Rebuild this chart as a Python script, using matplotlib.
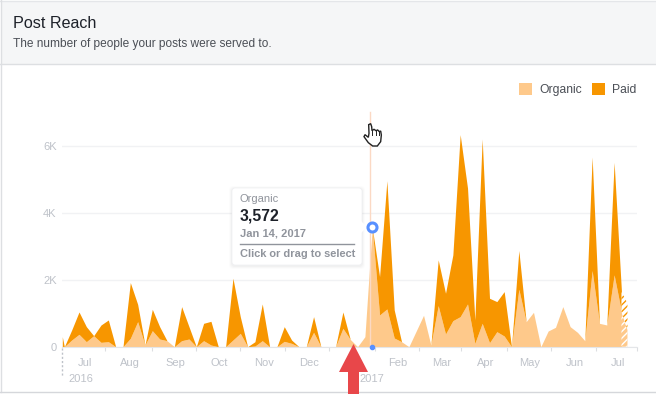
import matplotlib
matplotlib.use("Agg")
import matplotlib.pyplot as plt
from matplotlib.patches import FancyBboxPatch, Polygon, Rectangle

# values in thousands, one point per 5 days after the short first step
organic = [0, 0, .2, .37, .15, .33, .13, .15, 0, 0, .25, .75, .05, .48, .23, .18, 0, .18, .23, 0,
           .18, .05, 0, 0, .2, .4, 0, .02, .18, 0, 0, .16, .1, 0, 0, .43, 0, 0, 0, .55,
           .22, 0, .3, 3.572, .95, 1.13, .26, .15, 0, .47, .94, .05, 1.23, .38, .78, .9, 1.28, .1, .7, .12,
           .45, .32, 0, 1.72, .75, 1.03, 0, .47, .58, 1.2, .6, .43, .18, 2.28, .7, .65, 2.15, 1.05, .5]
paid = [.3, 0, .3, .67, .45, 0, .52, .65, 0, 0, 1.67, .52, 0, .64, .37, 0, 0, 1.02, .37, 0,
        .52, .71, 0, 0, 1.85, .5, 0, .13, 1.1, 0, 0, .44, .1, 0, 0, .47, 0, 0, 0, .49,
        0, 0, 0, 0, 1.15, 3.84, .84, 0, 0, 0, 0, 0, 1.37, 1.22, 1.97, 5.45, 3.47, .7, 5.52, 1.33,
        .9, 1.33, 0, 1.16, 0, 0, 0, 0, 0, 0, 0, 0, 0, 3.4, 0, 0, 3.37, .6, .8]
days = [0] + [1.4 + 5 * k for k in range(77)] + [385.5]
month_starts = [0, 29, 61, 91, 121, 152, 182, 213, 243, 272, 303, 333, 364, 392]
month_labels = ["Jul", "Aug", "Sep", "Oct", "Nov", "Dec", "", "Feb", "Mar", "Apr", "May", "Jun", "Jul"]
y_ticks = [0, 2, 4, 6]
y_labels = ["0", "2K", "4K", "6K"]

W, H = 656, 394
ORGANIC = "#fec98b"
PAID = "#f79600"
GRAY = "#bec2c9"
plt.rcParams["font.family"] = ["Liberation Sans", "DejaVu Sans"]

fig = plt.figure(figsize=(W / 100, H / 100), dpi=100)

# chart area placed by pixels
left, right, top, bottom = 62.3, 637.0, 110.0, 346.7
ax = fig.add_axes([left / W, 1 - bottom / H, (right - left) / W, (bottom - top) / H])
ax.set_xlim(0, (right - left) / 1.4667)
ax.set_ylim(0, (bottom - top) / 33.4)
for s in ax.spines.values():
    s.set_visible(False)
ax.spines["bottom"].set_visible(True)
ax.spines["bottom"].set_color("#e4e6e9")
ax.set_yticks(y_ticks, y_labels)
ax.grid(axis="y", color="#f1f2f4", lw=1)
ax.set_axisbelow(True)
ax.tick_params(axis="y", length=0, pad=4, labelsize=8, labelcolor=GRAY)
ax.set_xticks(month_starts[1:], [""] * 13)
ax.tick_params(axis="x", which="major", length=3, color="#dcdee1", width=.8)
mids = [(a + b) / 2 + 1 for a, b in zip(month_starts[:-1], month_starts[1:])]
ax.set_xticks(mids, month_labels, minor=True)
ax.tick_params(axis="x", which="minor", length=0, pad=8, labelsize=8, labelcolor=GRAY)

total = [a + b for a, b in zip(organic, paid)]
org_area = ax.fill_between(days[:-1], 0, organic[:-1], color=ORGANIC, lw=0, label="Organic")
paid_area = ax.fill_between(days[:-1], organic[:-1], total[:-1], color=PAID, lw=0, label="Paid")
# last period is still partial, drawn hatched
plt.rcParams["hatch.linewidth"] = 1.0
ax.fill_between(days[-2:], 0, organic[-2:], facecolor=ORGANIC, edgecolor="white", hatch="/////", lw=0)
ax.fill_between(days[-2:], organic[-2:], total[-2:], facecolor="white", edgecolor=PAID, hatch="/////", lw=0)

ax.legend(handles=[org_area, paid_area], loc="upper right", bbox_to_anchor=(1.008, 1.133), ncol=2,
          frameon=False, fontsize=8.7, labelcolor="#4b4f56", handlelength=1.05, handleheight=1.05,
          handletextpad=.6, columnspacing=.87, borderaxespad=0)

# everything around the chart, in pixel coordinates
ov = fig.add_axes([0, 0, 1, 1], zorder=5)
ov.set_xlim(0, W)
ov.set_ylim(H, 0)
ov.axis("off")
ov.patch.set_alpha(0)

ov.add_patch(Rectangle((1, 1), W, 63, fc="#f5f6f7", ec="none"))
ov.plot([0, W], [64, 64], color="#dddfe2", lw=1)
ov.plot([0, W], [.5, .5], color="#e4e6e9", lw=1)
ov.plot([.5, .5], [0, 392], color="#dddfe2", lw=1)
ov.plot([0, W], [392, 392], color="#d5d7db", lw=1)
ov.text(13, 23.5, "Post Reach", fontsize=11.6, color="#1d2129", va="center")
ov.text(13, 44, "The number of people your posts were served to.", fontsize=8.55, color="#4b4f56", va="center")

ov.plot([62.3, 62.3], [348, 376], color=GRAY, lw=1, ls=(0, (1.5, 1.5)))
ov.text(68, 379, "2016", fontsize=8, color=GRAY, va="center")
ov.text(359, 379, "2017", fontsize=8, color=GRAY, va="center")

# hover line
ov.plot([369.5, 369.5], [112, 346], color="#fbd9c4", lw=1, zorder=1)

# tooltip
for grow, alpha in ((3, .012), (2, .018), (1, .025)):
    ov.add_patch(FancyBboxPatch((232 - grow, 188 - grow + 1), 130 + 2 * grow, 77 + 2 * grow,
                                boxstyle="round,pad=0,rounding_size=4", fc="black", ec="none", alpha=alpha, zorder=2))
ov.add_patch(FancyBboxPatch((232, 188), 130, 77, boxstyle="round,pad=0,rounding_size=3",
                            fc="white", ec="#eeeff1", lw=.5, zorder=3))
ov.add_patch(Polygon([(361, 221), (367, 227), (361, 233)], fc="white", ec="none", zorder=3))
ov.text(240, 199, "Organic", fontsize=8, color="#90949c", va="center", zorder=4)
ov.text(240, 215.5, "3,572", fontsize=11.3, color="#1d2129", fontweight="bold", va="center", zorder=4)
ov.text(240, 233, "Jan 14, 2017", fontsize=8, color="#90949c", fontweight="bold", va="center", zorder=4)
ov.plot([240, 354], [243.5, 243.5], color="#90949c", lw=1, zorder=4)
ov.text(240, 254, "Click or drag to select", fontsize=7.9, color="#90949c", fontweight="bold", va="center", zorder=4)

# hovered point, above the tooltip
ov.plot(days[43], organic[43], "o", ms=6.5, mfc="white", mec="#5890ff", mew=2.2, zorder=6,
        transform=ax.transData, clip_on=False)
ov.plot(days[43], 0, "o", ms=3, color="#5890ff", zorder=6, transform=ax.transData, clip_on=False)

# red arrow
ov.add_patch(Polygon([(353.5, 344), (368, 372), (359, 372), (359, 394), (348, 394), (348, 372), (339, 372)],
                     fc="#e8474a", ec="none", zorder=7))

# hand cursor
hand = [(446, 44), (452, 41), (455, 50), (456, 62), (462, 58), (468, 62), (473, 60), (478, 65), (482, 63), (484, 75),
        (482, 95), (472, 108), (458, 108), (445, 98), (432, 80), (435, 74), (445, 82), (447, 70)]
ov.add_patch(Polygon([(220 + x / 3, 110 + y / 3) for x, y in hand], fc="white", ec="#222222", lw=1, zorder=8))
for x, y0, y1 in ((456, 62, 75), (468, 62, 75), (478, 65, 76)):
    ov.plot([220 + x / 3] * 2, [110 + y0 / 3, 110 + y1 / 3], color="#222222", lw=.7, zorder=9)

fig.savefig("out.png", dpi=100)
